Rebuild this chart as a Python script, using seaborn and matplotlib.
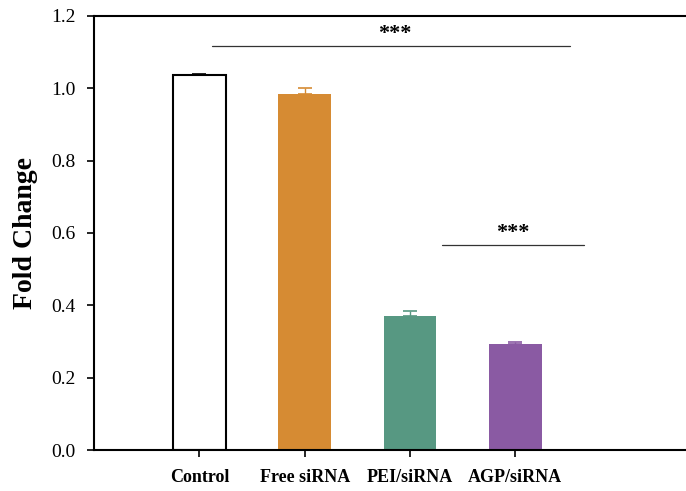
import matplotlib
matplotlib.use("Agg")
import matplotlib.pyplot as plt
import seaborn as sns
import pandas as pd

categories = ["Control", "Free siRNA", "PEI/siRNA", "AGP/siRNA"]
values = [1.037, 0.985, 0.370, 0.292]
errors = [0.002, 0.015, 0.014, 0.006]
colors = ["#FFFFFF", "#D68B33", "#579882", "#8A5AA3"]
yticks = [0.0, 0.2, 0.4, 0.6, 0.8, 1.0, 1.2]

sns.set_style("white")
plt.rcParams["font.family"] = ["Liberation Serif", "DejaVu Serif"]
plt.rcParams["text.color"] = "black"
plt.rcParams["axes.labelcolor"] = "black"
plt.rcParams["xtick.color"] = "black"
plt.rcParams["ytick.color"] = "black"

df = pd.DataFrame({"group": categories, "value": values})

fig = plt.figure(figsize=(6.86, 4.91), dpi=100)
ax = fig.add_axes([0.137, 0.0835, 0.863, 0.884])

sns.barplot(data=df, x="group", y="value", hue="group", palette=colors,
            width=0.5, legend=False, ax=ax, errorbar=None, saturation=1)
for i, p in enumerate(ax.patches):
    if i == 0:
        p.set_edgecolor("black")
        p.set_linewidth(1.5)
    else:
        p.set_edgecolor("none")
for i, (v, e) in enumerate(zip(values, errors)):
    ax.errorbar(i, v, yerr=[[0], [e]], fmt="none", ecolor=colors[i] if i else "black",
                capsize=5, elinewidth=1, capthick=1.2, zorder=1)

# significance
ax.plot([0.117, 3.52], [1.117, 1.117], color="#333333", lw=0.9)
ax.text(1.86, 1.122, "***", ha="center", va="bottom", fontsize=16, fontweight="bold")
ax.plot([2.30, 3.65], [0.566, 0.566], color="#333333", lw=0.9)
ax.text(2.98, 0.571, "***", ha="center", va="bottom", fontsize=16, fontweight="bold")

ax.set_xlim(-1, 4.62)
ax.set_ylim(0, 1.2)
ax.set_yticks(yticks)
ax.set_yticklabels([f"{t:.1f}" for t in yticks], fontsize=14)
ax.set_xticks(range(len(categories)))
ax.set_xticklabels(categories, fontsize=13, fontweight="bold")
ax.set_xlabel("")
ax.set_ylabel("Fold Change", fontsize=20, fontweight="bold", labelpad=10)

for s in ["left", "bottom", "top"]:
    ax.spines[s].set_visible(True)
    ax.spines[s].set_color("black")
    ax.spines[s].set_linewidth(1.5)
ax.spines["right"].set_visible(False)
ax.tick_params(axis="both", direction="out", length=5, width=1.2, color="black",
               left=True, bottom=True)
ax.tick_params(axis="y", pad=8)
ax.tick_params(axis="x", pad=9)

fig.savefig("out.png", dpi=100)
